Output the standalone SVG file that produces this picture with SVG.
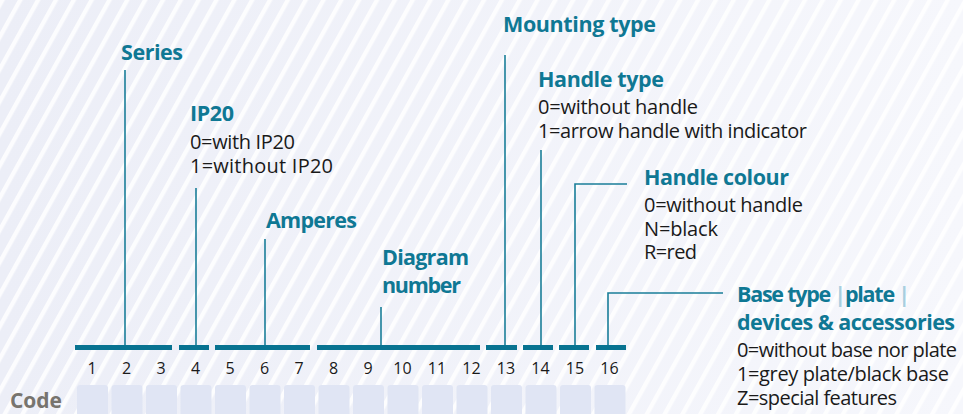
<svg xmlns="http://www.w3.org/2000/svg" width="963" height="414" viewBox="0 0 963 414">
<defs>
<linearGradient id="bg" x1="0" y1="0" x2="1" y2="0">
<stop offset="0" stop-color="#eceef7"/>
<stop offset="1" stop-color="#f6f7fc"/>
</linearGradient>
<pattern id="stripes" width="15.6" height="40" patternUnits="userSpaceOnUse" patternTransform="rotate(29)">
<rect x="0" y="0" width="4.3" height="40" fill="#ffffff" fill-opacity="0.85"/>
</pattern>
</defs>
<style>
.h{font-family:"Open Sans","Noto Sans","Liberation Sans",sans-serif;font-weight:bold;font-size:21.5px;fill:#0f7894}
.b{font-family:"Open Sans","Noto Sans","Liberation Sans",sans-serif;font-size:20px;fill:#1a1a1a}
.n{font-family:"Open Sans","Noto Sans","Liberation Sans",sans-serif;font-size:16px;fill:#1a1a1a;text-anchor:middle}
.code{font-family:"Open Sans","Noto Sans","Liberation Sans",sans-serif;font-weight:bold;font-size:21px;fill:#77746e}
.pipe{fill:#a8cfe0}
.bar{fill:#087391}
.lead{stroke:#1a7e99;stroke-width:1.6;fill:none}
.cell{fill:#e0e5f4}
</style>
<rect width="963" height="414" fill="url(#bg)"/>
<rect width="963" height="414" fill="url(#stripes)"/>

<g id="connectors">
<line class="lead" x1="125" y1="70" x2="125" y2="346"/>
<line class="lead" x1="196" y1="188" x2="196" y2="346"/>
<line class="lead" x1="265" y1="239" x2="265" y2="346"/>
<line class="lead" x1="381" y1="307" x2="381" y2="346"/>
<line class="lead" x1="505" y1="55" x2="505" y2="346"/>
<line class="lead" x1="541" y1="150" x2="541" y2="346"/>
<polyline class="lead" points="627,184 575,184 575,346"/>
<polyline class="lead" points="723,293 608,293 608,346"/>
</g>

<g id="bars">
<rect class="bar" x="75" y="345" width="97" height="5"/>
<rect class="bar" x="179" y="345" width="30" height="5"/>
<rect class="bar" x="215" y="345" width="95" height="5"/>
<rect class="bar" x="317" y="345" width="163" height="5"/>
<rect class="bar" x="486" y="345" width="31" height="5"/>
<rect class="bar" x="523" y="345" width="30" height="5"/>
<rect class="bar" x="559" y="345" width="30" height="5"/>
<rect class="bar" x="596" y="345" width="30" height="5"/>
</g>

<g id="numbers">
<text class="n" x="92" y="374">1</text>
<text class="n" x="126.5" y="374">2</text>
<text class="n" x="161" y="374">3</text>
<text class="n" x="195.5" y="374">4</text>
<text class="n" x="230" y="374">5</text>
<text class="n" x="264.5" y="374">6</text>
<text class="n" x="299" y="374">7</text>
<text class="n" x="333.5" y="374">8</text>
<text class="n" x="368" y="374">9</text>
<text class="n" x="402.5" y="374">10</text>
<text class="n" x="437" y="374">11</text>
<text class="n" x="471.5" y="374">12</text>
<text class="n" x="506" y="374">13</text>
<text class="n" x="540.5" y="374">14</text>
<text class="n" x="575" y="374">15</text>
<text class="n" x="609.5" y="374">16</text>
</g>

<g id="code-row">
<text class="code" x="10" y="408" textLength="52">Code</text>
<rect class="cell" x="77" y="385" width="31" height="40" rx="3"/>
<rect class="cell" x="111.5" y="385" width="31" height="40" rx="3"/>
<rect class="cell" x="146" y="385" width="31" height="40" rx="3"/>
<rect class="cell" x="180.5" y="385" width="31" height="40" rx="3"/>
<rect class="cell" x="215" y="385" width="31" height="40" rx="3"/>
<rect class="cell" x="249.5" y="385" width="31" height="40" rx="3"/>
<rect class="cell" x="284" y="385" width="31" height="40" rx="3"/>
<rect class="cell" x="318.5" y="385" width="31" height="40" rx="3"/>
<rect class="cell" x="353" y="385" width="31" height="40" rx="3"/>
<rect class="cell" x="387.5" y="385" width="31" height="40" rx="3"/>
<rect class="cell" x="422" y="385" width="31" height="40" rx="3"/>
<rect class="cell" x="456.5" y="385" width="31" height="40" rx="3"/>
<rect class="cell" x="491" y="385" width="31" height="40" rx="3"/>
<rect class="cell" x="525.5" y="385" width="31" height="40" rx="3"/>
<rect class="cell" x="560" y="385" width="31" height="40" rx="3"/>
<rect class="cell" x="594.5" y="385" width="31" height="40" rx="3"/>
</g>

<g id="series">
<text class="h" x="121" y="60" textLength="62">Series</text>
</g>
<g id="ip20">
<text class="h" x="190" y="121" textLength="44">IP20</text>
<text class="b" x="190" y="149" textLength="105">0=with IP20</text>
<text class="b" x="190" y="173" textLength="143">1=without IP20</text>
</g>
<g id="amperes">
<text class="h" x="266" y="228" textLength="91">Amperes</text>
</g>
<g id="diagram-number">
<text class="h" x="382" y="265" textLength="87">Diagram</text>
<text class="h" x="382" y="293" textLength="79">number</text>
</g>
<g id="mounting-type">
<text class="h" x="503" y="32" textLength="153">Mounting type</text>
</g>
<g id="handle-type">
<text class="h" x="538" y="87" textLength="126">Handle type</text>
<text class="b" x="538" y="114" textLength="160">0=without handle</text>
<text class="b" x="538" y="138" textLength="269">1=arrow handle with indicator</text>
</g>
<g id="handle-colour">
<text class="h" x="644" y="185" textLength="145">Handle colour</text>
<text class="b" x="644" y="212" textLength="159">0=without handle</text>
<text class="b" x="644" y="236" textLength="74">N=black</text>
<text class="b" x="644" y="259" textLength="53">R=red</text>
</g>
<g id="base-type">
<text class="h" x="737" y="302" textLength="173">Base type <tspan class="pipe">|</tspan>plate <tspan class="pipe">|</tspan></text>
<text class="h" x="737" y="330" textLength="218">devices &amp; accessories</text>
<text class="b" x="737" y="357" textLength="220">0=without base nor plate</text>
<text class="b" x="737" y="381" textLength="212">1=grey plate/black base</text>
<text class="b" x="737" y="405" textLength="160">Z=special features</text>
</g>
</svg>
